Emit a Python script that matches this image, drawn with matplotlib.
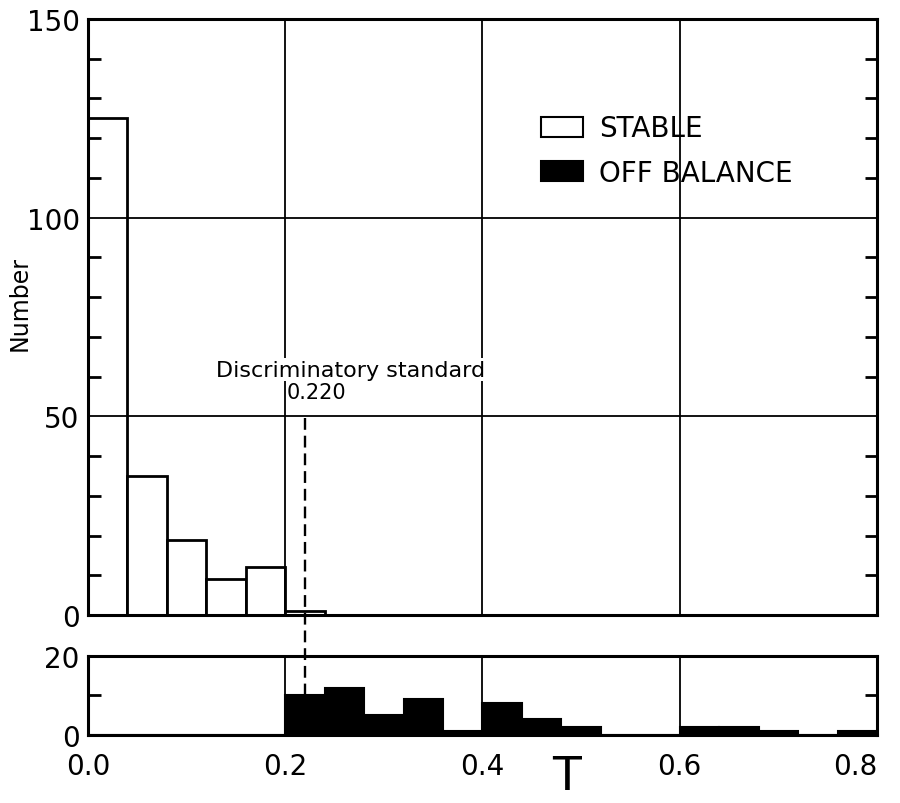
import matplotlib
matplotlib.use("Agg")
import matplotlib.pyplot as plt
import numpy as np
from matplotlib.patches import Patch
from matplotlib.lines import Line2D
from matplotlib.transforms import blended_transform_factory

plt.rcParams['font.family'] = ['DejaVu Sans']

# Histogram bins of T (width 0.04)
bin_edges = [round(0.04 * i, 2) for i in range(21)]
stable_counts = [125, 35, 19, 9, 12, 1, 0, 0, 0, 0, 0, 0, 0, 0, 0, 0, 0, 0, 0, 0]
off_balance_counts = [0, 0, 0, 0, 0, 10, 12, 5, 9, 1, 8, 4, 2, 0, 0, 2, 2, 1, 0, 1]
threshold = 0.220
x_ticks = [0.0, 0.2, 0.4, 0.6, 0.8]
x_ticklabels = ["0.0", "0.2", "0.4", "0.6", "0.8"]

fig = plt.figure(figsize=(9.0, 8.04), dpi=100)
ax_top = fig.add_axes([0.0978, 0.2338, 0.8766, 0.7413])
ax_bot = fig.add_axes([0.0978, 0.0846, 0.8766, 0.0983])

left = np.array(bin_edges[:-1])
width = np.diff(bin_edges)

# stable specimens (open bars)
ax_top.bar(left, stable_counts, width=width, align='edge',
           facecolor='white', edgecolor='black', linewidth=2.0,
           label='STABLE', zorder=1)
# off-balance specimens (filled bars)
ax_bot.bar(left, off_balance_counts, width=width, align='edge',
           facecolor='black', edgecolor='black', linewidth=1.5, zorder=1)

for ax in (ax_top, ax_bot):
    ax.set_xlim(0, 0.8)
    for s in ax.spines.values():
        s.set_linewidth(2.2)
        s.set_zorder(4)
    for gx in (0.2, 0.4, 0.6):
        ax.axvline(gx, color='black', linewidth=1.3, zorder=2)
    ax.tick_params(axis='y', which='both', direction='in', left=True, right=True,
                   labelsize=20, width=2, pad=6)
    ax.tick_params(axis='y', which='major', length=0)
    ax.tick_params(axis='y', which='minor', length=9)

ax_top.set_ylim(0, 150)
ax_top.set_yticks([0, 50, 100, 150])
ax_top.set_yticks(np.arange(10, 150, 10), minor=True)
ax_top.yaxis.set_minor_formatter(plt.NullFormatter())
for gy in (50, 100):
    ax_top.axhline(gy, color='black', linewidth=1.3, zorder=2)
ax_top.set_xticks([])
ax_top.set_ylabel('Number', fontsize=17)
ax_top.yaxis.set_label_coords(-0.072, 0.525)

ax_bot.set_ylim(0, 20)
ax_bot.set_yticks([0, 20])
ax_bot.set_yticks([10], minor=True)
ax_bot.yaxis.set_minor_formatter(plt.NullFormatter())
ax_bot.set_xticks(x_ticks)
ax_bot.set_xticklabels(x_ticklabels)
ax_bot.tick_params(axis='x', length=0, labelsize=20, pad=12)
ax_bot.get_xticklabels()[-1].set_horizontalalignment('right')

# legend
handles = [Patch(facecolor='white', edgecolor='black', linewidth=1.5, label='STABLE'),
           Patch(facecolor='black', edgecolor='black', linewidth=1.5, label='OFF BALANCE')]
ax_top.legend(handles=handles, loc='upper left', bbox_to_anchor=(0.574, 0.840),
              frameon=False, fontsize=20, handlelength=1.5, handleheight=0.72,
              handletextpad=0.6, labelspacing=0.6, borderpad=0, borderaxespad=0)

# discriminatory standard marker
trans = blended_transform_factory(ax_top.transData, fig.transFigure)
y_start = 1 - 419 / 804
y_end = 1 - 696 / 804
fig.add_artist(Line2D([threshold, threshold], [y_start, y_end], transform=trans,
                      color='black', linewidth=1.7, linestyle=(0, (5, 2.5))))
bg = dict(facecolor='white', edgecolor='none', pad=1.0)
ax_top.text(0.266, 60.2, 'Discriminatory standard', ha='center', va='baseline',
            fontsize=16, bbox=bg, zorder=3)
ax_top.text(0.232, 54.6, '0.220', ha='center', va='baseline', fontsize=15,
            bbox=bg, zorder=3)

# axis variable
fig.text(0.629, 0.017, 'T', ha='center', va='baseline', fontsize=34)

fig.savefig('out.png', dpi=100)
